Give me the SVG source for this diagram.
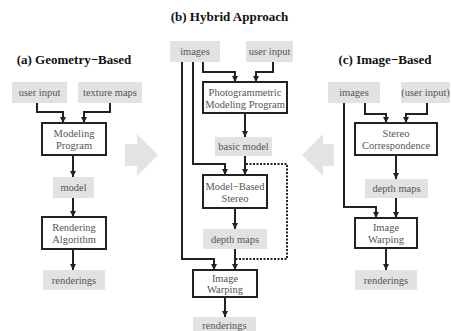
<svg xmlns="http://www.w3.org/2000/svg" width="451" height="331" viewBox="0 0 451 331">
<style>
.d{fill:#e2e2e2;stroke:none}
.p{fill:#fff;stroke:#222;stroke-width:2}
.t{font-family:"Liberation Serif","DejaVu Serif",serif;font-size:10.5px;fill:#555;text-anchor:middle}
.h{font-family:"Liberation Serif","DejaVu Serif",serif;font-size:13px;font-weight:bold;fill:#111;text-anchor:middle}
.c{fill:none;stroke:#222;stroke-width:2}
.a{marker-end:url(#ah)}
.dot{fill:none;stroke:#222;stroke-width:2;stroke-dasharray:2,1.5}
.big{fill:#e3e3e3}
</style>
<defs>
<marker id="ah" markerUnits="userSpaceOnUse" markerWidth="7" markerHeight="7" refX="6" refY="3.5" orient="auto">
<path d="M0,0.5 L6,3.5 L0,6.5 z" fill="#222"/>
</marker>
</defs>
<rect width="451" height="331" fill="#fff"/>
<text class="h" x="74" y="64">(a) Geometry−Based</text>
<text class="h" x="229.5" y="21">(b) Hybrid Approach</text>
<text class="h" x="385" y="64">(c) Image−Based</text>
<g id="bigarrows">
<path class="big" d="M125,144 H137 V134 L158,155 L137,176 V166 H125 z"/>
<path class="big" d="M334,144 H323 V134 L302,155 L323,176 V166 H334 z"/>
</g>
<g id="connectors">
<path class="c a" d="M37,103 V112 H63 V123"/>
<path class="c a" d="M110,103 V112 H84 V123"/>
<path class="c a" d="M73,155 V177"/>
<path class="c a" d="M73,198 V217"/>
<path class="c a" d="M73,249 V270"/>
<path class="c a" d="M203,62 V72 H235 V82"/>
<path class="c a" d="M273,62 V72 H256 V82"/>
<path class="c a" d="M245,113 V137"/>
<path class="c a" d="M245,156 V175"/>
<path class="c a" d="M193,62 V164 H225 V175"/>
<path class="c a" d="M182,62 V259 H214 V270"/>
<path class="c a" d="M235,208 V229"/>
<path class="c a" d="M235,249 V270"/>
<path class="c a" d="M225,297 V317"/>
<path class="dot" d="M246,164 H287 V259 H236"/>
<path class="c a" d="M365,103 V114 H386 V123"/>
<path class="c a" d="M427,103 V114 H406 V123"/>
<path class="c a" d="M396,155 V179"/>
<path class="c a" d="M396,198 V218"/>
<path class="c a" d="M344,103 V207 H376 V218"/>
<path class="c a" d="M386,248 V270"/>
</g>
<g id="a-userinput"><rect class="d" x="12" y="82" width="55" height="21"/><text class="t" x="39.5" y="96">user input</text></g>
<g id="a-texturemaps"><rect class="d" x="78" y="82" width="64" height="21"/><text class="t" x="110" y="96">texture maps</text></g>
<g id="a-modeling"><rect class="p" x="42" y="123" width="64" height="32"/><text class="t" x="74" y="137">Modeling</text><text class="t" x="74" y="149">Program</text></g>
<g id="a-model"><rect class="d" x="53" y="177" width="41" height="21"/><text class="t" x="73.5" y="191">model</text></g>
<g id="a-rendering"><rect class="p" x="42" y="217" width="64" height="32"/><text class="t" x="74" y="231">Rendering</text><text class="t" x="74" y="243">Algorithm</text></g>
<g id="a-renderings"><rect class="d" x="43" y="270" width="62" height="20"/><text class="t" x="74" y="283.5">renderings</text></g>
<g id="b-images"><rect class="d" x="170" y="41" width="50" height="21"/><text class="t" x="195" y="55">images</text></g>
<g id="b-userinput"><rect class="d" x="246" y="41" width="47" height="21"/><text class="t" x="269.5" y="55">user input</text></g>
<g id="b-photo"><rect class="p" x="203" y="82" width="84" height="31"/><text class="t" x="245" y="95.5">Photogrammetric</text><text class="t" x="245" y="107.5">Modeling Program</text></g>
<g id="b-basicmodel"><rect class="d" x="215" y="137" width="57" height="19"/><text class="t" x="243.5" y="150">basic model</text></g>
<g id="b-mbs"><rect class="p" x="203" y="175" width="64" height="33"/><text class="t" x="235" y="189.5">Model−Based</text><text class="t" x="235" y="201.5">Stereo</text></g>
<g id="b-depthmaps"><rect class="d" x="203" y="229" width="64" height="20"/><text class="t" x="235" y="242.5">depth maps</text></g>
<g id="b-warping"><rect class="p" x="193" y="270" width="64" height="27"/><text class="t" x="225" y="281.5">Image</text><text class="t" x="225" y="293">Warping</text></g>
<g id="b-renderings"><rect class="d" x="193" y="317" width="63" height="16"/><text class="t" x="224.5" y="328.5">renderings</text></g>
<g id="c-images"><rect class="d" x="328" y="82" width="52" height="21"/><text class="t" x="354" y="96">images</text></g>
<g id="c-userinput"><rect class="d" x="401" y="82" width="49" height="21"/><text class="t" x="425.5" y="96">(user input)</text></g>
<g id="c-stereo"><rect class="p" x="355" y="123" width="82" height="32"/><text class="t" x="396" y="137">Stereo</text><text class="t" x="396" y="149">Correspondence</text></g>
<g id="c-depthmaps"><rect class="d" x="365" y="179" width="63" height="19"/><text class="t" x="396.5" y="192">depth maps</text></g>
<g id="c-warping"><rect class="p" x="355" y="218" width="62" height="30"/><text class="t" x="386" y="231">Image</text><text class="t" x="386" y="243">Warping</text></g>
<g id="c-renderings"><rect class="d" x="355" y="270" width="62" height="20"/><text class="t" x="386" y="283.5">renderings</text></g>
</svg>
